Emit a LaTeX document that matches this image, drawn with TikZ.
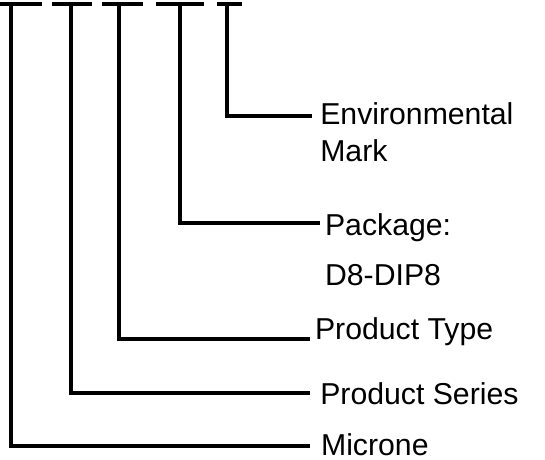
\documentclass[tikz,border=0pt]{standalone}
\usepackage{fontspec}
\setmainfont{Liberation Sans}
\begin{document}
\begin{tikzpicture}[
    every node/.style={font=\fontsize{21.5}{25}\selectfont, inner sep=0pt, anchor=base west},
    bar/.style={line width=2.85pt},
    lead/.style={line width=2.85pt}
]
\useasboundingbox (0,0) rectangle (13.625,-11.5);

% marks along the top
\coordinate (t1) at (0.27,-0.1); \coordinate (t2) at (1.78,-0.1);
\coordinate (t3) at (2.98,-0.1); \coordinate (t4) at (4.51,-0.1);
\coordinate (t5) at (5.68,-0.1);
\draw[bar] (0,-0.1) -- (1.05,-0.1); \draw[bar] (1.3,-0.1) -- (2.3,-0.1);
\draw[bar] (2.55,-0.1) -- (3.58,-0.1); \draw[bar] (3.9,-0.1) -- (5.1,-0.1);
\draw[bar] (5.43,-0.1) -- (6.05,-0.1);

% labels
\node (env) at (8.0,-3.125) {Environmental};
\node (mark) at (8.0,-4.05) {Mark};
\node (pkg) at (8.12,-5.88) {Package:};
\node (dip) at (8.12,-7.15) {D8-DIP8};
\node (type) at (7.87,-8.5) {Product Type};
\node (series) at (8.0,-10.1) {Product Series};
\node (microne) at (8.02,-11.4) {Microne};

% lead ends
\coordinate (e5) at (7.8,-2.9); \coordinate (e4) at (8.0,-5.58);
\coordinate (e3) at (7.75,-8.48); \coordinate (e2) at (7.75,-9.83);
\coordinate (e1) at (7.75,-11.15);

\draw[lead] (t5) |- (e5); \draw[lead] (t4) |- (e4);
\draw[lead] (t3) |- (e3); \draw[lead] (t2) |- (e2);
\draw[lead] (t1) |- (e1);
\end{tikzpicture}
\end{document}
